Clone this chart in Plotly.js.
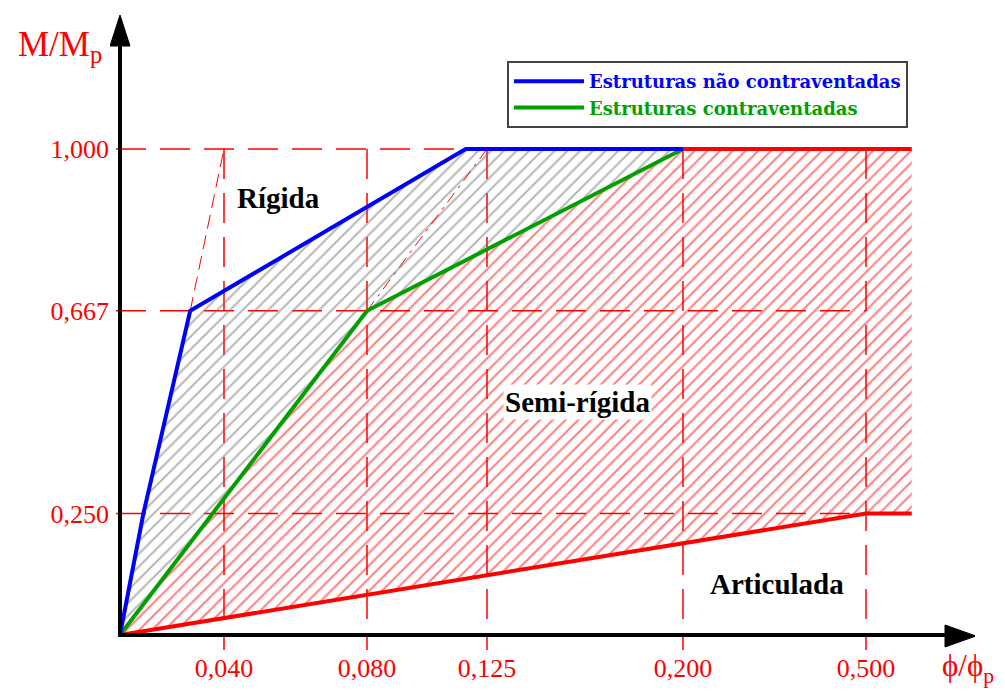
<!DOCTYPE html>
<html>
<head>
<meta charset="utf-8">
<script src="https://cdn.plot.ly/plotly-3.0.1.min.js"></script>
<style>html,body{margin:0;padding:0;background:#fff;}#chart{width:1005px;height:691px;}</style>
</head>
<body>
<div id="chart"></div>
<script>
// ---- data ----
const phiTicks = [0.040, 0.080, 0.125, 0.200, 0.500];
const phiTickLabels = ['0,040', '0,080', '0,125', '0,200', '0,500'];
const mTicks = [0.250, 0.667, 1.000];
const mTickLabels = ['0,250', '0,667', '1,000'];

// Estruturas não contraventadas (limite rígido)
const unbracedPhi = [0, 0.009, 0.027, 0.117, 0.200];
const unbracedM = [0, 0.250, 0.667, 1.000, 1.000];
// Estruturas contraventadas
const bracedPhi = [0, 0.080, 0.200];
const bracedM = [0, 0.667, 1.000];
// Limite articulado
const pinnedPhi = [0, 0.500, 0.575];
const pinnedM = [0, 0.250, 0.250];
// Resistência total
const fullPhi = [0.200, 0.575];
const fullM = [1.000, 1.000];
// Linhas auxiliares finas
const rigidAuxPhi = [0.027, 0.040];
const rigidAuxM = [0.667, 1.000];
const bracedAuxPhi = [0.080, 0.125];
const bracedAuxM = [0.667, 1.000];

const regionLabels = ['Rígida', 'Semi-rígida', 'Articulada'];
const legendNames = ['Estruturas não contraventadas', 'Estruturas contraventadas'];

// ---- schematic (non-linear) x scale ----
const scaleKnotsPhi = [0, 0.040, 0.080, 0.125, 0.200, 0.500];
const scaleKnotsPos = [0, 104, 247, 367, 563, 746];
function axisPos(phi) {
  const n = scaleKnotsPhi.length;
  let i = 0;
  while (i < n - 2 && phi > scaleKnotsPhi[i + 1]) i++;
  const p0 = scaleKnotsPhi[i], p1 = scaleKnotsPhi[i + 1];
  const q0 = scaleKnotsPos[i], q1 = scaleKnotsPos[i + 1];
  return q0 + (phi - p0) * (q1 - q0) / (p1 - p0);
}
const mapX = arr => arr.map(axisPos);

// layout geometry
const W = 1005, H = 691;
const mL = 110, mR = 30, mT = 10, mB = 41;
const xRange = [-10, 855];
const yPerUnit = 486;
const yRange = [-15 / yPerUnit, 625 / yPerUnit];
const plotW = W - mL - mR, plotH = H - mT - mB;
const pxX = px => xRange[0] + (px - mL) * (xRange[1] - xRange[0]) / plotW;
const pxY = py => yRange[1] - (py - mT) * (yRange[1] - yRange[0]) / plotH;
const paperX = px => (px - mL) / plotW;
const paperY = py => (H - mB - py) / plotH;

const RED = '#ff0000', BLUE = '#0000ff', GREEN = '#00a000';
const SERIF = 'Liberation Serif, Times New Roman, serif';

const grayPolyX = mapX(unbracedPhi.concat(bracedPhi.slice().reverse()));
const grayPolyY = unbracedM.concat(bracedM.slice().reverse());
const redPolyX = mapX(pinnedPhi.concat(fullPhi.slice().reverse(), bracedPhi.slice().reverse()));
const redPolyY = pinnedM.concat(fullM.slice().reverse(), bracedM.slice().reverse());

const traces = [
  {x: grayPolyX, y: grayPolyY, mode: 'none', fill: 'toself', fillcolor: 'rgba(0,0,0,0)',
   fillpattern: {shape: '/', fgcolor: '#6e6e6e', bgcolor: 'rgba(0,0,0,0)', size: 9, solidity: 0.22, fillmode: 'overlay'},
   showlegend: false, hoverinfo: 'skip'},
  {x: redPolyX, y: redPolyY, mode: 'none', fill: 'toself', fillcolor: 'rgba(0,0,0,0)',
   fillpattern: {shape: '/', fgcolor: RED, bgcolor: 'rgba(0,0,0,0)', size: 9, solidity: 0.22, fillmode: 'overlay'},
   showlegend: false, hoverinfo: 'skip'},
  {x: mapX(rigidAuxPhi), y: rigidAuxM, mode: 'lines', line: {color: RED, width: 1, dash: '14px,7px'}, showlegend: false},
  {x: mapX(bracedAuxPhi), y: bracedAuxM, mode: 'lines', line: {color: RED, width: 1, dash: '12px,6px,3px,6px'}, showlegend: false},
  {x: mapX(pinnedPhi), y: pinnedM, mode: 'lines', line: {color: RED, width: 4}, showlegend: false},
  {x: mapX(fullPhi), y: fullM, mode: 'lines', line: {color: RED, width: 4}, showlegend: false},
  {x: mapX(bracedPhi), y: bracedM, mode: 'lines', line: {color: GREEN, width: 4}, legendrank: 2,
   name: '<span style="color:' + GREEN + '">' + legendNames[1] + '</span>'},
  {x: mapX(unbracedPhi), y: unbracedM, mode: 'lines', line: {color: BLUE, width: 4}, legendrank: 1,
   name: '<span style="color:' + BLUE + '">' + legendNames[0] + '</span>'}
];

const shapes = [];
const dashStyle = {color: RED, width: 1.5, dash: '30px,14px'};
phiTicks.forEach(p => {
  shapes.push({type: 'line', layer: 'below', xref: 'x', yref: 'y', x0: axisPos(p), x1: axisPos(p), y0: 1.0, y1: yRange[0], line: dashStyle});
});
mTicks.forEach(m => {
  shapes.push({type: 'line', layer: 'below', xref: 'x', yref: 'y', x0: pxX(116), x1: axisPos(0.5), y0: m, y1: m, line: dashStyle});
});
// axes with arrows
shapes.push({type: 'line', xref: 'x', yref: 'y', x0: 0, x1: 0, y0: pxY(637), y1: pxY(45), line: {color: '#000', width: 4}});
shapes.push({type: 'path', xref: 'x', yref: 'y', fillcolor: '#000', line: {color: '#000', width: 1},
  path: `M${pxX(110)},${pxY(46)} L${pxX(120)},${pxY(15)} L${pxX(130)},${pxY(46)} Z`});
shapes.push({type: 'line', xref: 'x', yref: 'y', x0: pxX(118), x1: pxX(946), y0: 0, y1: 0, line: {color: '#000', width: 4}});
shapes.push({type: 'path', xref: 'x', yref: 'y', fillcolor: '#000', line: {color: '#000', width: 1},
  path: `M${pxX(945)},${pxY(625)} L${pxX(976)},${pxY(636)} L${pxX(945)},${pxY(647)} Z`});

const annFont = {family: SERIF, size: 29, color: '#000', weight: 'bold'};
const ann = (px, py, text, font, extra) => Object.assign({xref: 'paper', yref: 'paper', x: paperX(px), y: paperY(py),
  xanchor: 'center', yanchor: 'middle', text: text, showarrow: false, font: font}, extra || {});
const annotations = [
  ann(278, 198, regionLabels[0], annFont),
  ann(577, 402, regionLabels[1], annFont, {bgcolor: '#fff'}),
  ann(777, 584, regionLabels[2], annFont),
  ann(60, 46, 'M/M<sub>p</sub>', {family: SERIF, size: 35, color: RED}),
  ann(968, 668, 'ϕ/ϕ<sub>p</sub>', {family: SERIF, size: 31, color: RED})
];

const layout = {
  width: W, height: H,
  margin: {l: mL, r: mR, t: mT, b: mB, pad: 0},
  paper_bgcolor: '#fff', plot_bgcolor: '#fff',
  showlegend: true,
  legend: {x: paperX(507), y: paperY(61), xanchor: 'left', yanchor: 'top',
    bgcolor: '#fff', bordercolor: '#444', borderwidth: 2, itemwidth: 70,
    font: {family: 'DejaVu Serif, Liberation Serif, serif', size: 18, weight: 'bold'}, traceorder: 'normal'},
  xaxis: {range: xRange, showgrid: false, zeroline: false, showline: false, ticks: '',
    tickmode: 'array', tickvals: mapX(phiTicks), ticktext: phiTickLabels,
    tickfont: {family: SERIF, size: 26, color: RED}, fixedrange: true},
  yaxis: {range: yRange, showgrid: false, zeroline: false, showline: false, ticks: '',
    tickmode: 'array', tickvals: mTicks, ticktext: mTickLabels,
    tickfont: {family: SERIF, size: 26, color: RED}, fixedrange: true},
  shapes: shapes,
  annotations: annotations
};

Plotly.newPlot('chart', traces, layout, {displayModeBar: false, staticPlot: true});
</script>
</body>
</html>
